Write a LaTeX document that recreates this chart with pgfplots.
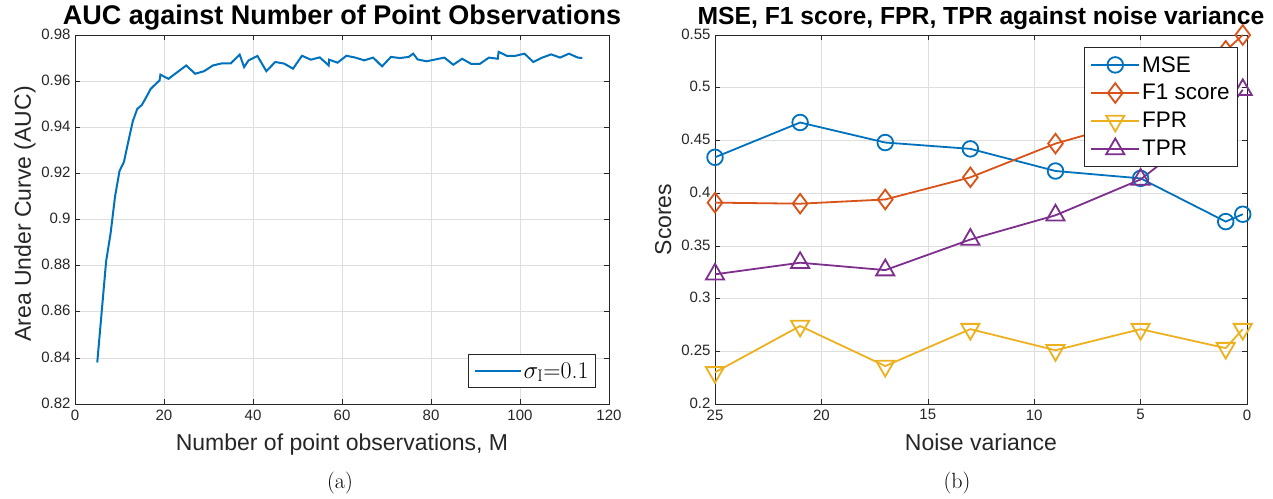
\documentclass[border=0pt]{standalone}
\usepackage{pgfplots}
\pgfplotsset{compat=1.18}
\usepackage{fontspec}
\newfontfamily\hv{Liberation Sans}
\definecolor{mblue}{rgb}{0,0.447,0.741}
\definecolor{morange}{rgb}{0.85,0.325,0.098}
\definecolor{myellow}{rgb}{0.929,0.694,0.125}
\definecolor{mpurple}{rgb}{0.494,0.184,0.556}
\definecolor{axgray}{rgb}{0.15,0.15,0.15}

\pgfplotstableread{
x y
5 0.838
6 0.860
7 0.882
8 0.894
9 0.910
10 0.921
11 0.925
12 0.934
13 0.9427
14 0.948
15 0.9496
16 0.953
17 0.9566
18 0.9585
19 0.9603
19.2 0.9628
21 0.961
23 0.9639
25 0.9668
27 0.9632
29 0.9643
31 0.9668
33 0.9677
35 0.9677
37 0.9715
38 0.9661
39 0.969
41 0.9709
43 0.9643
45 0.9683
47 0.9676
49 0.9654
51 0.971
53 0.9693
55 0.9703
57 0.9668
57.1 0.9693
59 0.968
61 0.971
63 0.9702
65 0.969
67 0.9702
69 0.9664
71 0.9705
73 0.970
75 0.9705
76 0.9719
77 0.9694
79 0.9686
81 0.9694
83 0.9702
85 0.9671
87 0.9697
89 0.9675
91 0.9675
93 0.9702
95 0.9697
95.2 0.9727
97 0.971
99 0.971
101 0.9719
103 0.9683
105 0.9702
107 0.9716
109 0.9702
111 0.9719
113 0.9702
114 0.970
}\auctable

\pgfplotstableread{
x mse f1 fpr tpr
25 0.434 0.391 0.230 0.323
21 0.467 0.390 0.274 0.334
17 0.448 0.394 0.236 0.327
13 0.442 0.415 0.271 0.356
9 0.421 0.447 0.251 0.379
5 0.414 0.470 0.271 0.413
1 0.373 0.535 0.253 0.476
0.2 0.380 0.550 0.271 0.498
}\noisetable

\pgfplotsset{
  mstyle/.style={
    scale only axis,
    height=369pt,
    axis line style={draw=axgray, line width=0.6pt},
    grid=major,
    grid style={black!13, line width=0.6pt},
    tick align=inside,
    major tick length=5pt,
    tick style={axgray, line width=0.6pt},
    tick label style={font=\hv\fontsize{15}{15}\selectfont, text=axgray},
    xticklabel style={yshift=-2pt},
    yticklabel style={xshift=-1pt, yshift=1pt},
    /pgf/number format/assume math mode=true,
    /pgf/number format/fixed,
    /pgf/number format/precision=2,
    scaled ticks=false,
    label style={font=\hv\fontsize{23}{23}\selectfont, text=axgray},
    title style={at={(0.5,1)}, anchor=base, yshift=4pt},
    xlabel style={at={(0.5,0)}, anchor=base, yshift=-46pt},
  }
}

\begin{document}
\begin{tikzpicture}
\useasboundingbox (0,0) rectangle (1273pt,498pt);

\begin{axis}[mstyle,
  at={(75pt,94pt)}, anchor=south west,
  width=534pt,
  xmin=0, xmax=120, ymin=0.82, ymax=0.98,
  xtick={0,20,40,60,80,100,120},
  ytick={0.82,0.84,0.86,0.88,0.9,0.92,0.94,0.96,0.98},
  title={AUC against Number of Point Observations},
  title style={font=\hv\bfseries\fontsize{27}{27}\selectfont},
  xlabel={Number of point observations, M},
  ylabel={Area Under Curve (AUC)},
  ylabel style={at={(-0.0824,0.515)}, anchor=base},
  legend style={at={(1,0)}, anchor=south east, xshift=-13pt, yshift=16pt,
    font=\fontsize{24}{24}\selectfont, draw=axgray, line width=0.6pt,
    inner xsep=5pt, inner ysep=6pt},
  legend image code/.code={\draw[#1] (0pt,0pt) -- (46pt,0pt);},
]
\addplot[mblue, line width=2pt] table[x=x, y=y] {\auctable};
\addlegendentry{$\sigma_{\mathrm{I}}$=0.1}
\end{axis}

\begin{axis}[mstyle,
  at={(715pt,94pt)}, anchor=south west,
  width=532pt,
  clip=false,
  x dir=reverse,
  xmin=0, xmax=25, ymin=0.2, ymax=0.55,
  xtick={0,5,10,15,20,25},
  ytick={0.2,0.25,0.3,0.35,0.4,0.45,0.5,0.55},
  title={MSE, F1 score, FPR, TPR against noise variance},
  title style={font=\hv\bfseries\fontsize{24.7}{25}\selectfont},
  xlabel={Noise variance},
  ylabel={Scores},
  ylabel style={at={(-0.0827,0.5)}, anchor=base},
  legend style={at={(1,1)}, anchor=north east, xshift=-9pt, yshift=-12pt,
    font=\hv\fontsize{22.5}{22.5}\selectfont, draw=axgray, line width=0.6pt,
    inner xsep=6pt, inner ysep=7pt, row sep=7pt},
  legend cell align=left,
  legend image code/.code={\draw[#1, mark repeat=2, mark phase=2] plot coordinates {(0pt,0pt) (24pt,0pt) (48pt,0pt)};},
]
\addplot[mblue, line width=1.8pt, mark=o, mark size=7.8pt] table[x=x, y=mse] {\noisetable};
\addlegendentry{MSE}
\addplot[morange, line width=1.8pt, mark=diamond, mark size=9.8pt] table[x=x, y=f1] {\noisetable};
\addlegendentry{F1 score}
\addplot[myellow, line width=1.8pt, mark=triangle, mark size=10.5pt, mark options={rotate=180}] table[x=x, y=fpr] {\noisetable};
\addlegendentry{FPR}
\addplot[mpurple, line width=1.8pt, mark=triangle, mark size=10.5pt] table[x=x, y=tpr] {\noisetable};
\addlegendentry{TPR}
\end{axis}

\node[font=\fontsize{22}{26}\selectfont, anchor=base] at (340pt,10pt) {(a)};
\node[font=\fontsize{22}{26}\selectfont, anchor=base] at (957pt,10pt) {(b)};
\end{tikzpicture}
\end{document}
